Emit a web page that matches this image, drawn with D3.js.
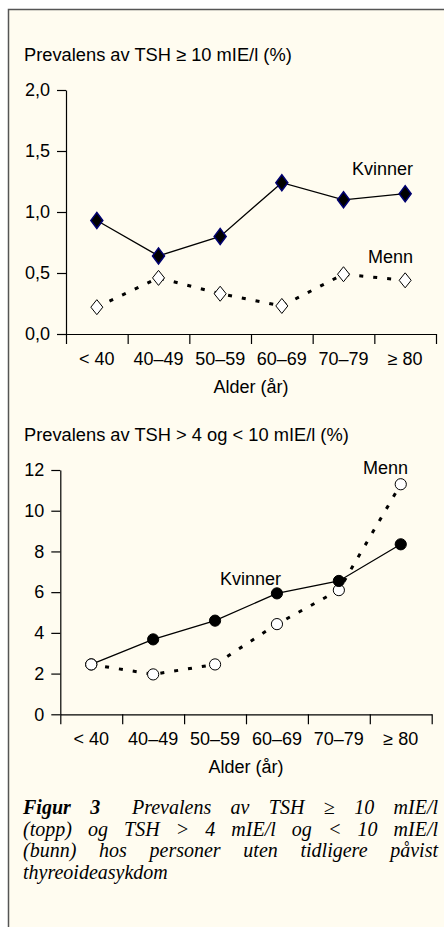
<html>
  <head>
    <script src="https://d3js.org/d3.v7.min.js"></script>
    <style>
      body {
        margin: 0;
        background: #fff;
      }
      text {
        font-family: "Liberation Sans", Arial, sans-serif;
      }
      .axis path,
      .axis line {
        stroke: #000;
        stroke-width: 1.2;
      }
      .axis text {
        font-size: 18px;
        fill: #000;
      }
      text.caption {
        font-family: "Liberation Serif", "Times New Roman", serif;
        font-style: italic;
        font-size: 20px;
      }
    </style>
  </head>

  <body>
    <svg id="fig" width="444" height="927"></svg>

    <script>
      // age groups on the x axis
      const ageGroups = ["< 40", "40–49", "50–59", "60–69", "70–79", "≥ 80"];

      // top: prevalence of TSH >= 10 mIE/l (%)
      const topKvinner = [0.93, 0.64, 0.8, 1.24, 1.1, 1.15];
      const topMenn = [0.22, 0.46, 0.33, 0.23, 0.49, 0.44];
      const topTicks = [0, 0.5, 1, 1.5, 2];

      // bottom: prevalence of TSH > 4 and < 10 mIE/l (%)
      const botKvinner = [2.45, 3.68, 4.6, 5.94, 6.55, 8.35];
      const botMenn = [2.45, 1.96, 2.45, 4.43, 6.1, 11.3];
      const botTicks = [0, 2, 4, 6, 8, 10, 12];

      const captionLines = [
        "(topp) og TSH > 4 mIE/l og < 10 mIE/l",
        "(bunn) hos personer uten tidligere påvist",
        "thyreoideasykdom",
      ];

      svg = d3.select("svg#fig");

      // panel background + frame
      svg
        .append("rect")
        .attr("x", 8.5)
        .attr("y", 9.5)
        .attr("width", 500)
        .attr("height", 1000)
        .attr("fill", "#fffcf0")
        .attr("stroke", "#555")
        .attr("stroke-width", 1.5);

      function drawChart(opt) {
        let g = svg.append("g");

        let x = d3
          .scaleBand()
          .domain(ageGroups)
          .range([opt.left, opt.right]);

        // boundaries between age groups
        let xEdge = d3
          .scaleLinear()
          .domain([0, ageGroups.length])
          .range([opt.left, opt.right]);

        let y = d3
          .scaleLinear()
          .domain([0, opt.max])
          .range([opt.bottom, opt.top]);

        g.append("g")
          .attr("class", "axis")
          .attr("transform", `translate(${opt.left},0)`)
          .call(
            d3
              .axisLeft(y)
              .tickValues(opt.ticks)
              .tickFormat(opt.fmt)
              .tickSize(9)
              .tickSizeOuter(0)
              .tickPadding(7)
          );

        g.append("g")
          .attr("class", "axis")
          .attr("transform", `translate(0,${opt.bottom})`)
          .call(
            d3
              .axisBottom(xEdge)
              .tickValues(d3.range(ageGroups.length + 1))
              .tickFormat("")
              .tickSize(10)
              .tickSizeOuter(0)
          );

        // category labels
        g.selectAll(".cat")
          .data(ageGroups)
          .join("text")
          .attr("class", "cat")
          .attr("x", (d) => x(d) + x.bandwidth() / 2)
          .attr("y", opt.bottom + 31)
          .attr("text-anchor", "middle")
          .attr("font-size", 18)
          .text((d) => d);

        g.append("text")
          .attr("x", (opt.left + opt.right) / 2)
          .attr("y", opt.bottom + 59)
          .attr("text-anchor", "middle")
          .attr("font-size", 18)
          .text("Alder (år)");

        g.append("text")
          .attr("x", 24)
          .attr("y", opt.titleY)
          .attr("font-size", 18.3)
          .text(opt.title);

        let cx = (i) => x(ageGroups[i]) + x.bandwidth() / 2;

        let line = d3
          .line()
          .x((d, i) => cx(i))
          .y((d) => y(d));

        // menn: thick dotted line
        g.append("path")
          .attr("d", line(opt.menn))
          .attr("fill", "none")
          .attr("stroke", "#000")
          .attr("stroke-width", 3)
          .attr("stroke-dasharray", "4,10");

        // kvinner: thin solid line
        g.append("path")
          .attr("d", line(opt.kvinner))
          .attr("fill", "none")
          .attr("stroke", "#000")
          .attr("stroke-width", 1.3);

        if (opt.marker == "diamond") {
          g.selectAll(".km")
            .data(opt.kvinner)
            .join("path")
            .attr("class", "km")
            .attr("d", "M0,-8L6,0L0,8L-6,0Z")
            .attr("transform", (d, i) => `translate(${cx(i)},${y(d)})`)
            .attr("fill", "#000")
            .attr("stroke", "#000070")
            .attr("stroke-width", 1.5);
          g.selectAll(".mm")
            .data(opt.menn)
            .join("path")
            .attr("class", "mm")
            .attr("d", "M0,-7.5L6,0L0,7.5L-6,0Z")
            .attr("transform", (d, i) => `translate(${cx(i)},${y(d)})`)
            .attr("fill", "#fff")
            .attr("stroke", "#000")
            .attr("stroke-width", 1);
        } else {
          g.selectAll(".km")
            .data(opt.kvinner)
            .join("circle")
            .attr("class", "km")
            .attr("cx", (d, i) => cx(i))
            .attr("cy", (d) => y(d))
            .attr("r", 5.6)
            .attr("fill", "#000")
            .attr("stroke", "#000")
            .attr("stroke-width", 1);
          g.selectAll(".mm")
            .data(opt.menn)
            .join("circle")
            .attr("class", "mm")
            .attr("cx", (d, i) => cx(i))
            .attr("cy", (d) => y(d))
            .attr("r", 5.6)
            .attr("fill", "#fff")
            .attr("stroke", "#000")
            .attr("stroke-width", 1);
          // women's filled dots sit on top except where both coincide
          g.selectAll(".km").filter((d, i) => i > 0).raise();
        }

        opt.labels.forEach((l) => {
          g.append("text")
            .attr("x", l.x)
            .attr("y", l.y)
            .attr("font-size", 18)
            .text(l.text);
        });
      }

      drawChart({
        left: 66,
        right: 436,
        top: 90,
        bottom: 334,
        max: 2,
        ticks: topTicks,
        fmt: (d) => d3.format(".1f")(d).replace(".", ","),
        title: "Prevalens av TSH ≥ 10 mIE/l (%)",
        titleY: 60.5,
        kvinner: topKvinner,
        menn: topMenn,
        marker: "diamond",
        labels: [
          { text: "Kvinner", x: 352, y: 175 },
          { text: "Menn", x: 368, y: 263 },
        ],
      });

      drawChart({
        left: 60.3,
        right: 431.7,
        top: 470,
        bottom: 714.3,
        max: 12,
        ticks: botTicks,
        fmt: d3.format("d"),
        title: "Prevalens av TSH > 4 og < 10 mIE/l (%)",
        titleY: 441,
        kvinner: botKvinner,
        menn: botMenn,
        marker: "circle",
        labels: [
          { text: "Menn", x: 363, y: 474 },
          { text: "Kvinner", x: 220, y: 585 },
        ],
      });

      // figure caption, justified between x=23 and x=438
      const capLeft = 23,
        capRight = 438,
        capTop = 814,
        capStep = 21.6;

      let cap = svg.append("g");

      // justify a line by widening the word spaces
      function justify(t) {
        let spaces = t.text().split(" ").length - 1;
        let w = t.node().getComputedTextLength();
        t.attr("word-spacing", Math.max(0, (capRight - capLeft - w) / spaces));
      }

      let figLabel = cap
        .append("text")
        .attr("class", "caption")
        .attr("x", capLeft)
        .attr("y", capTop)
        .attr("font-weight", "bold")
        .text("Figur 3");

      let first = cap
        .append("text")
        .attr("class", "caption")
        .attr("x", capRight)
        .attr("y", capTop)
        .attr("text-anchor", "end")
        .text("Prevalens av TSH ≥ 10 mIE/l");

      let spacing = [];
      captionLines.forEach((s, i) => {
        let t = cap
          .append("text")
          .attr("class", "caption")
          .attr("x", capLeft)
          .attr("y", capTop + capStep * (i + 1))
          .text(s);
        if (i < captionLines.length - 1) {
          justify(t);
          spacing.push(+t.attr("word-spacing"));
        }
      });
      first.attr("word-spacing", d3.mean(spacing));
      figLabel.attr("word-spacing", d3.mean(spacing));
    </script>
  </body>
</html>
